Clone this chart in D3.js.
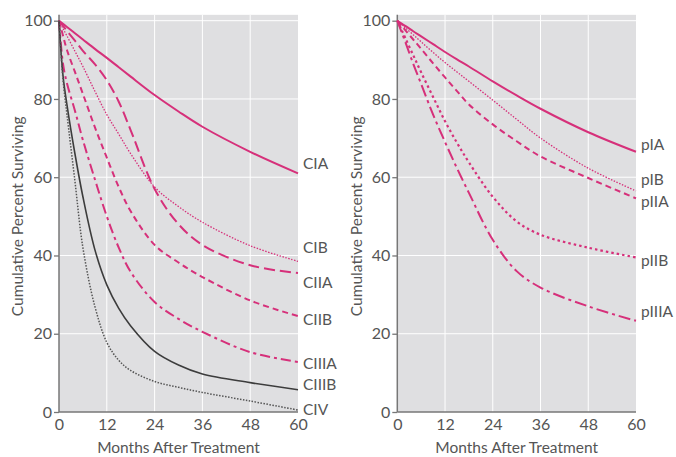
<!DOCTYPE html>
<html>
<head>
<meta charset="utf-8">
<script src="https://cdn.jsdelivr.net/npm/d3@7"></script>
<style>
  body { margin: 0; background: #fff; }
  text { font-family: Lato, "Open Sans", sans-serif; fill: #555; }
</style>
</head>
<body>
<svg id="chart"></svg>
<script>
const width = 676;
const height = 457;

// months after treatment (shared by every curve)
const months = [0, 1, 2, 4, 6, 9, 12, 15, 18, 24, 30, 36, 48, 60];

// clinical stage (left panel)
const cIA   = [100, 99.2, 98.4, 96.8, 95.2, 92.8, 90.5, 88.1, 85.7, 81, 76.8, 72.9, 66.5, 61];
const cIB   = [100, 98, 96.1, 92.2, 88.3, 82, 76, 71, 66, 57.5, 52.5, 48.5, 42.5, 38.5];
const cIIA  = [100, 98.7, 97.4, 94.9, 92.3, 88.9, 84.8, 79.3, 72, 57, 48, 42.7, 37.5, 35.5];
const cIIB  = [100, 96.2, 92.5, 86.9, 81.3, 72.8, 65, 57.5, 51.3, 42.7, 38.2, 34.5, 28.5, 24.5];
const cIIIA = [100, 89, 84, 77, 69.5, 59.5, 50, 42, 35.8, 28.1, 23.8, 20.5, 15.3, 12.8];
const cIIIB = [100, 86, 78.5, 66, 55, 41.5, 32.5, 26.5, 22, 15.5, 12, 9.7, 7.5, 5.7];
const cIV   = [100, 85, 76, 59, 42, 27, 17.8, 13.2, 10.6, 7.8, 6.3, 5, 2.8, 0.5];

// pathologic stage (right panel)
const pIA   = [100, 99.3, 98.7, 97.3, 96, 94, 92, 90.1, 88.3, 84.5, 80.9, 77.5, 71.5, 66.5];
const pIB   = [100, 99.1, 98.2, 96.4, 94.6, 91.9, 89.3, 86.9, 84.5, 79.7, 74.8, 70, 62.3, 56.5];
const pIIA  = [100, 98.8, 97.6, 95.2, 92.8, 89.1, 85.5, 82, 78.6, 73.5, 69.2, 65.3, 59.8, 54.6];
const pIIB  = [100, 97.8, 95.6, 91.2, 86.8, 80.5, 74.3, 68.8, 63.8, 55, 48.7, 45.3, 42, 39.5];
const pIIIA = [100, 97.3, 94.6, 89, 83.8, 76, 69, 62.3, 56, 44, 36, 31.8, 27, 23.3];

const xTicks = [0, 12, 24, 36, 48, 60];
const yTicks = [0, 20, 40, 60, 80, 100];

const pink = '#d6307a';
const dark = '#3c3c3c';

// line styles, label nudge in px
const leftSeries = [
    {name: 'CIA',   values: cIA,   color: pink, w: 2,   dash: null,          dy: -10},
    {name: 'CIB',   values: cIB,   color: pink, w: 1.3, dash: '1.5,1.5',     dy: -14},
    {name: 'CIIA',  values: cIIA,  color: pink, w: 2,   dash: '11,5',        dy: 9},
    {name: 'CIIB',  values: cIIB,  color: pink, w: 2,   dash: '6,4',         dy: 3},
    {name: 'CIIIA', values: cIIIA, color: pink, w: 2,   dash: '10,4,3,4',    dy: 2},
    {name: 'CIIIB', values: cIIIB, color: dark, w: 1.6, dash: null,          dy: -5},
    {name: 'CIV',   values: cIV,   color: '#555', w: 1.5, dash: '1.5,1.5',   dy: 0}
];
const rightSeries = [
    {name: 'pIA',   values: pIA,   color: pink, w: 2,   dash: null,          dy: -7},
    {name: 'pIB',   values: pIB,   color: pink, w: 1.3, dash: '1.5,1.5',     dy: -11},
    {name: 'pIIA',  values: pIIA,  color: pink, w: 2,   dash: '6,4',         dy: 3},
    {name: 'pIIB',  values: pIIB,  color: pink, w: 2.2, dash: '2.5,3',       dy: 3},
    {name: 'pIIIA', values: pIIIA, color: pink, w: 2,   dash: '12,4,3,4',    dy: -9}
];

const svg = d3.select('#chart')
            .attr('width', width)
            .attr('height', height);

const y = d3.scaleLinear().domain([0, 100]).range([412, 20.7]);

function drawPanel(left, right, series, titleX) {
    const x = d3.scaleLinear().domain([0, 60]).range([left, right]);
    const g = svg.append('g');

    // gray plot area
    g.append('rect')
        .attr('x', x(0))
        .attr('y', y(101.5))
        .attr('width', x(60) - x(0))
        .attr('height', y(0) - y(101.5))
        .attr('fill', '#dfdfe1');

    // white grid
    g.selectAll('.vgrid')
        .data(xTicks.slice(1, -1))
        .enter().append('line')
        .attr('x1', d => x(d)).attr('x2', d => x(d))
        .attr('y1', y(101.5)).attr('y2', y(0))
        .attr('stroke', '#fff').attr('stroke-width', 1);
    g.selectAll('.hgrid')
        .data(yTicks.slice(1))
        .enter().append('line')
        .attr('x1', x(0)).attr('x2', x(60))
        .attr('y1', d => y(d)).attr('y2', d => y(d))
        .attr('stroke', '#fff').attr('stroke-width', 1);

    // axes
    const yAxis = g.append('g')
        .attr('transform', `translate(${x(0)}, 0)`)
        .call(d3.axisLeft(y).tickValues(yTicks).tickSize(5).tickPadding(2));
    const xAxis = g.append('g')
        .attr('transform', `translate(0, ${y(0)})`)
        .call(d3.axisBottom(x).tickValues(xTicks).tickSize(0).tickPadding(7));

    [xAxis, yAxis].forEach(a => {
        a.select('.domain').remove();
        a.selectAll('line').attr('stroke', '#777').attr('stroke-width', 1.3);
        a.selectAll('text').attr('font-size', 16).attr('fill', '#555')
            .style('font-family', 'Lato, sans-serif');
    });

    // axis lines
    g.append('line')
        .attr('x1', x(0)).attr('x2', x(0))
        .attr('y1', y(101.5)).attr('y2', y(0))
        .attr('stroke', '#777').attr('stroke-width', 1.5);
    g.append('line')
        .attr('x1', x(0)).attr('x2', x(60))
        .attr('y1', y(0)).attr('y2', y(0))
        .attr('stroke', '#777').attr('stroke-width', 1.5);

    // curves
    const line = d3.line()
        .x((d, i) => x(months[i]))
        .y(d => y(d))
        .curve(d3.curveCatmullRom.alpha(0.5));

    series.forEach(s => {
        g.append('path')
            .datum(s.values)
            .attr('fill', 'none')
            .attr('stroke', s.color)
            .attr('stroke-width', s.w)
            .attr('stroke-dasharray', s.dash)
            .attr('d', line);

        g.append('text')
            .attr('x', x(60) + 5)
            .attr('y', y(s.values[s.values.length - 1]) + s.dy)
            .attr('dy', '0.35em')
            .attr('font-size', 15.5)
            .text(s.name);
    });

    // titles
    g.append('text')
        .attr('x', (x(0) + x(60)) / 2)
        .attr('y', 453)
        .attr('text-anchor', 'middle')
        .attr('font-size', 15.5)
        .text('Months After Treatment');

    g.append('text')
        .attr('transform', `translate(${titleX}, ${(y(0) + y(100)) / 2}) rotate(-90)`)
        .attr('text-anchor', 'middle')
        .attr('dy', '0.35em')
        .attr('font-size', 15.5)
        .text('Cumulative Percent Surviving');
}

drawPanel(59, 298, leftSeries, 18);
drawPanel(397.3, 636, rightSeries, 357);
</script>
</body>
</html>
